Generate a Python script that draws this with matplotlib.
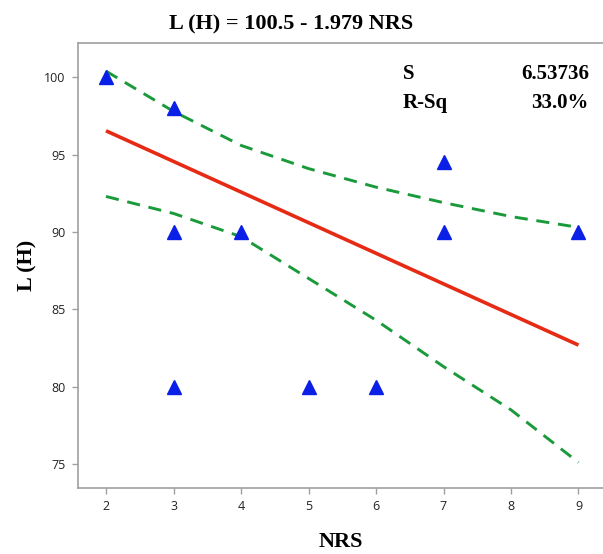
import matplotlib
matplotlib.use("Agg")
import matplotlib.pyplot as plt
import numpy as np

# Data
nrs = [2, 3, 3, 3, 4, 5, 6, 7, 7, 9]
lh = [100, 98, 90, 80, 90, 80, 80, 94.5, 90, 90]
intercept = 100.5
slope = -1.979
band_x = [2, 3, 4, 5, 6, 7, 8, 9]
band_upper = [100.4, 97.8, 95.6, 94.1, 92.9, 91.9, 91.0, 90.3]
band_lower = [92.3, 91.2, 89.7, 87.0, 84.3, 81.3, 78.5, 75.1]
x_ticks = [2, 3, 4, 5, 6, 7, 8, 9]
y_ticks = [75, 80, 85, 90, 95, 100]
title = "L (H) = 100.5 - 1.979 NRS"
stat_names = ["S", "R-Sq"]
stat_values = ["6.53736", "33.0%"]

W, H = 603, 554
fig = plt.figure(figsize=(W / 100, H / 100), dpi=100)
ax = fig.add_axes([78 / W, (H - 488) / H, (W - 78) / W, (488 - 43) / H])

fx = np.array([min(nrs), max(nrs)])
ax.plot(fx, intercept + slope * fx, color="#e62a14", lw=2.6, solid_capstyle="butt", zorder=3)
ax.plot(band_x, band_upper, color="#1a9a3a", lw=2.1, dashes=(4.5, 3), zorder=2)
ax.plot(band_x, band_lower, color="#1a9a3a", lw=2.1, dashes=(4.5, 3), zorder=2)
ax.plot(nrs, lh, linestyle="none", marker="^", ms=10.5, color="#0b20e6", zorder=4)

ax.set_xlim(1.585, 9.363)
ax.set_ylim(73.45, 102.22)
ax.set_xticks(x_ticks)
ax.set_yticks(y_ticks)
for s in ["top", "left", "bottom"]:
    ax.spines[s].set_color("#a0a0a0")
    ax.spines[s].set_linewidth(1.2)
ax.spines["right"].set_visible(False)
ax.tick_params(direction="out", length=4, width=1, color="#a0a0a0",
               labelsize=9, labelcolor="#222222", pad=5)
for lab in ax.get_xticklabels() + ax.get_yticklabels():
    lab.set_family("Open Sans")

serif = "Liberation Serif"
fig.text(291 / W, 1 - 24 / H, title, ha="center", va="center",
         fontsize=16, fontweight="bold", family=serif)
ax.set_xlabel("NRS", fontsize=16, fontweight="bold", family=serif, labelpad=13)
ax.set_ylabel("L (H)", fontsize=16, fontweight="bold", family=serif, labelpad=5)

for i, (n, v) in enumerate(zip(stat_names, stat_values)):
    yy = 1 - (74 + 29 * i) / H
    fig.text(403 / W, yy, n, ha="left", va="center", fontsize=15, fontweight="bold", family=serif)
    fig.text(589 / W, yy, v, ha="right", va="center", fontsize=15, fontweight="bold", family=serif)

fig.savefig("out.png", dpi=100)
